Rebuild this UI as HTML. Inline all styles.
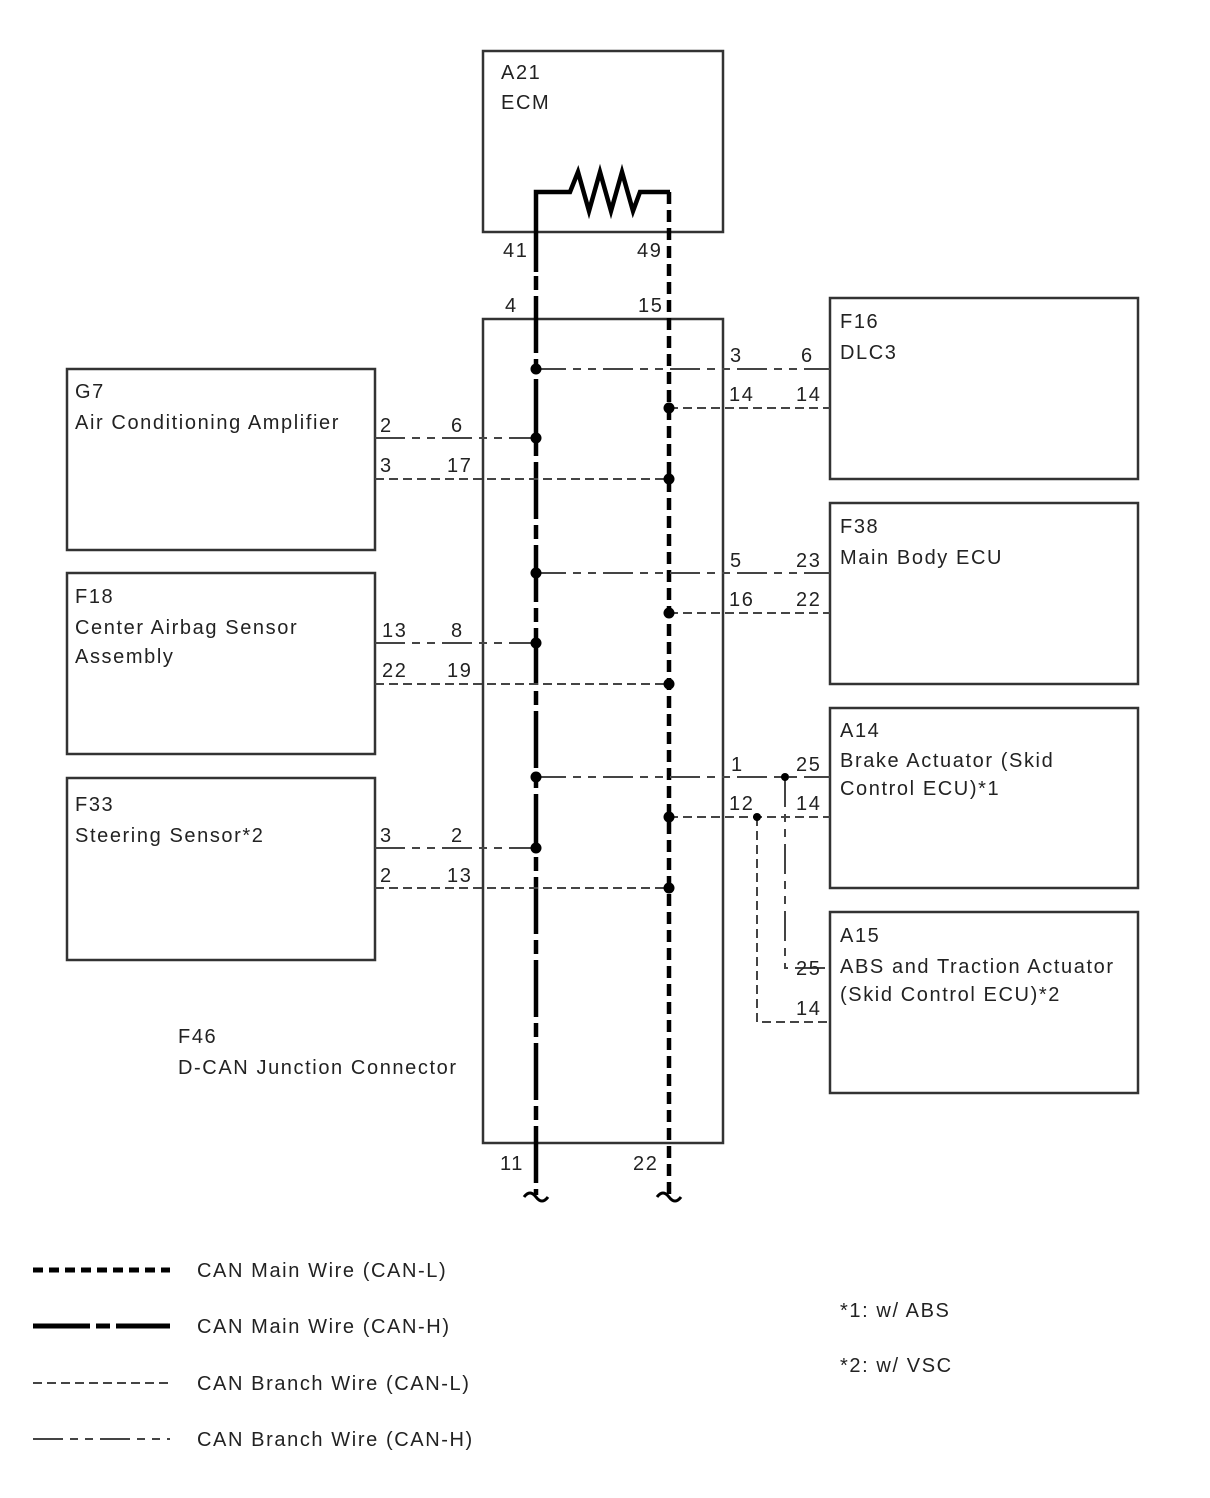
<!DOCTYPE html>
<html><head><meta charset="utf-8"><style>
html,body{margin:0;padding:0;background:#fff;}
svg{display:block;}
text{font-family:"Liberation Sans",sans-serif;font-size:20px;fill:#222;letter-spacing:1.6px;}
</style></head><body>
<svg width="1210" height="1498" viewBox="0 0 1210 1498" xmlns="http://www.w3.org/2000/svg">
<g fill="none" stroke="#333" stroke-width="2.5">
<rect x="483" y="51" width="240" height="181"/>
<rect x="483" y="319" width="240" height="824"/>
<rect x="830" y="298" width="308" height="181"/>
<rect x="830" y="503" width="308" height="181"/>
<rect x="830" y="708" width="308" height="180"/>
<rect x="830" y="912" width="308" height="181"/>
<rect x="67" y="369" width="308" height="181"/>
<rect x="67" y="573" width="308" height="181"/>
<rect x="67" y="778" width="308" height="182"/>
</g>
<polyline points="536,272 536,192 570,192 578,172 589,211 600,172 611,211 622,172 633,211 640,192 670,192" fill="none" stroke="#000" stroke-width="4.5"/>
<line x1="536" y1="270" x2="536" y2="1195" stroke="#000" stroke-width="4.5" stroke-dasharray="0 6 14 6 57 0" />
<line x1="669" y1="192" x2="669" y2="1195" stroke="#000" stroke-width="4.5" stroke-dasharray="12 6"/>
<path d="M524,1197 q6,-8 12,0 t12,0" fill="none" stroke="#000" stroke-width="3"/>
<path d="M657,1197 q6,-8 12,0 t12,0" fill="none" stroke="#000" stroke-width="3"/>
<g stroke="#444" stroke-width="2" fill="none" stroke-dasharray="30 7 8 7 8 7">
<line x1="536" y1="369" x2="830" y2="369"/>
<line x1="375" y1="438" x2="536" y2="438"/>
<line x1="536" y1="573" x2="830" y2="573"/>
<line x1="375" y1="643" x2="536" y2="643"/>
<line x1="536" y1="777" x2="830" y2="777"/>
<line x1="375" y1="848" x2="536" y2="848"/>
<polyline points="785,777 785,968 830,968"/>
</g>
<g stroke="#444" stroke-width="2" fill="none" stroke-dasharray="9 5">
<line x1="669" y1="408" x2="830" y2="408"/>
<line x1="375" y1="479" x2="669" y2="479"/>
<line x1="669" y1="613" x2="830" y2="613"/>
<line x1="375" y1="684" x2="669" y2="684"/>
<line x1="669" y1="817" x2="830" y2="817"/>
<line x1="375" y1="888" x2="669" y2="888"/>
<polyline points="757,817 757,1022 830,1022"/>
</g>
<g fill="#000">
<circle cx="536" cy="369" r="5.5"/><circle cx="536" cy="438" r="5.5"/><circle cx="536" cy="573" r="5.5"/>
<circle cx="536" cy="643" r="5.5"/><circle cx="536" cy="777" r="5.5"/><circle cx="536" cy="848" r="5.5"/>
<circle cx="669" cy="408" r="5.5"/><circle cx="669" cy="479" r="5.5"/><circle cx="669" cy="613" r="5.5"/>
<circle cx="669" cy="684" r="5.5"/><circle cx="669" cy="817" r="5.5"/><circle cx="669" cy="888" r="5.5"/>
<circle cx="785" cy="777" r="4"/><circle cx="757" cy="817" r="4"/>
</g>
<text x="501" y="79">A21</text><text x="501" y="109">ECM</text>
<text x="840" y="328">F16</text><text x="840" y="359">DLC3</text>
<text x="840" y="533">F38</text><text x="840" y="564">Main Body ECU</text>
<text x="840" y="737">A14</text><text x="840" y="767">Brake Actuator (Skid</text><text x="840" y="795">Control ECU)*1</text>
<text x="840" y="942">A15</text><text x="840" y="973">ABS and Traction  Actuator</text><text x="840" y="1001">(Skid Control ECU)*2</text>
<text x="75" y="398">G7</text><text x="75" y="429">Air Conditioning Amplifier</text>
<text x="75" y="603">F18</text><text x="75" y="634">Center Airbag Sensor</text><text x="75" y="663">Assembly</text>
<text x="75" y="811">F33</text><text x="75" y="842">Steering Sensor*2</text>
<text x="178" y="1043">F46</text><text x="178" y="1074">D-CAN Junction Connector</text>
<text x="503" y="257">41</text><text x="637" y="257">49</text>
<text x="505" y="312">4</text><text x="638" y="312">15</text>
<text x="500" y="1170">11</text><text x="633" y="1170">22</text>
<text x="730" y="362">3</text><text x="801" y="362">6</text>
<text x="729" y="401">14</text><text x="796" y="401">14</text>
<text x="380" y="432">2</text><text x="451" y="432">6</text>
<text x="380" y="472">3</text><text x="447" y="472">17</text>
<text x="730" y="567">5</text><text x="796" y="567">23</text>
<text x="729" y="606">16</text><text x="796" y="606">22</text>
<text x="382" y="637">13</text><text x="451" y="637">8</text>
<text x="382" y="677">22</text><text x="447" y="677">19</text>
<text x="731" y="771">1</text><text x="796" y="771">25</text>
<text x="729" y="810">12</text><text x="796" y="810">14</text>
<text x="380" y="842">3</text><text x="451" y="842">2</text>
<text x="380" y="882">2</text><text x="447" y="882">13</text>
<text x="796" y="975">25</text><text x="796" y="1015">14</text>
<line x1="33" y1="1270" x2="170" y2="1270" stroke="#000" stroke-width="5" stroke-dasharray="10 6"/>
<line x1="33" y1="1326" x2="170" y2="1326" stroke="#000" stroke-width="5" stroke-dasharray="57 6 14 6"/>
<line x1="33" y1="1383" x2="170" y2="1383" stroke="#444" stroke-width="2" stroke-dasharray="9 5"/>
<line x1="33" y1="1439" x2="170" y2="1439" stroke="#444" stroke-width="2" stroke-dasharray="30 7 8 7 8 7"/>
<text x="197" y="1277">CAN Main Wire (CAN-L)</text>
<text x="197" y="1333">CAN Main Wire (CAN-H)</text>
<text x="197" y="1390">CAN Branch Wire (CAN-L)</text>
<text x="197" y="1446">CAN Branch Wire (CAN-H)</text>
<text x="840" y="1317">*1: w/ ABS</text>
<text x="840" y="1372">*2: w/ VSC</text>
</svg>
</body></html>
